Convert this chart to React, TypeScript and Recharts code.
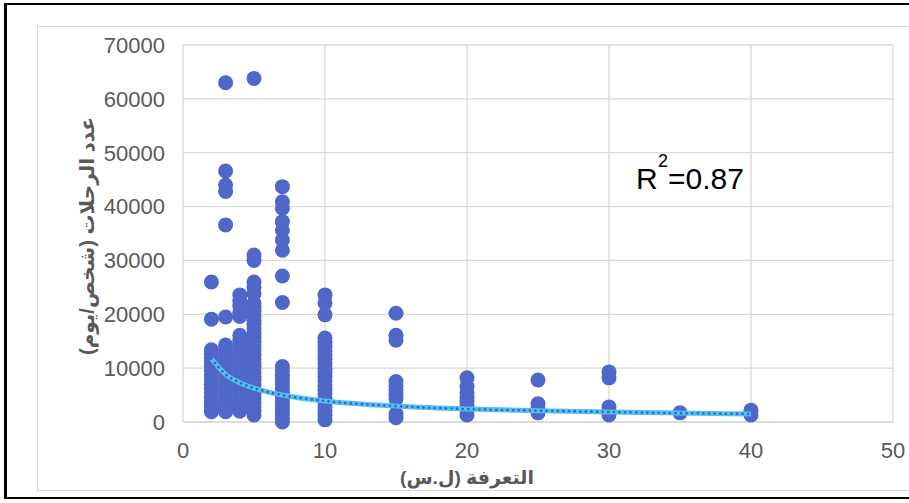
import React from "react";
import {
    ComposedChart, Scatter, XAxis, YAxis, CartesianGrid, Label, Curve,
} from "recharts";

// fare (SYP) columns and trips per day
const FARES = [2, 3, 4, 5, 7, 10, 15, 20, 25, 30, 35, 40];

const TRIPS_2 = [26000, 19100, 13400, 12600, 11800, 11000, 10200, 9400, 8600, 7800, 7000, 6200, 5400, 4600, 3800, 3000, 2400, 1900];
const TRIPS_3 = [63000, 46600, 44000, 42800, 36600, 19500, 14300, 13500, 12600, 11800, 11000, 10200, 9400, 8600, 7800, 7000, 6200, 5400, 4600, 3800, 3000, 2400, 1900];
const TRIPS_4 = [23600, 22600, 21600, 20400, 19600, 16100, 15200, 14400, 13600, 12800, 12000, 11200, 10400, 9600, 8800, 8000, 7200, 6400, 5600, 4800, 4000, 3200, 2600, 2000];
const TRIPS_5 = [63800, 31000, 30000, 26000, 25000, 23800, 22100, 21300, 20500, 19700, 18900, 18100, 17300, 16500, 15700, 14900, 14100, 13300, 12500, 11700, 10900, 10100, 9300, 8500, 7700, 6900, 6100, 5300, 4500, 3700, 2900, 2100, 1300];
const TRIPS_7 = [43700, 40900, 39700, 37200, 35600, 33800, 31900, 27100, 22200, 10300, 9500, 8700, 7900, 7100, 6300, 5500, 4700, 3900, 3100, 2300, 1500, 700, 0];
const TRIPS_10 = [23600, 22100, 19900, 15600, 14800, 14000, 13200, 12400, 11600, 10800, 10000, 9200, 8400, 7600, 6800, 6000, 5200, 4400, 3600, 2800, 2000, 1200, 400];
const TRIPS_15 = [20200, 16100, 15200, 7500, 6700, 5900, 5100, 4300, 1500, 800];
const TRIPS_20 = [8200, 6600, 5400, 4600, 3800, 3000, 2200, 1300];
const TRIPS_25 = [7800, 3400, 2600, 1700];
const TRIPS_30 = [9300, 8200, 2800, 2000, 1300];
const TRIPS_35 = [1700];
const TRIPS_40 = [2200, 1300];

// power trend line
const TREND_X = [2, 3, 4, 5, 7, 10, 15, 20, 25, 30, 35, 40];
const TREND_Y = [11800, 8850, 7300, 6300, 5000, 3900, 2950, 2400, 2100, 1870, 1650, 1490];

const X_TICKS = [0, 10, 20, 30, 40, 50];
const Y_TICKS = [0, 10000, 20000, 30000, 40000, 50000, 60000, 70000];

const COLUMNS = [TRIPS_2, TRIPS_3, TRIPS_4, TRIPS_5, TRIPS_7, TRIPS_10, TRIPS_15, TRIPS_20, TRIPS_25, TRIPS_30, TRIPS_35, TRIPS_40];

const points = COLUMNS.flatMap((col, i) => col.map((v) => ({ x: FARES[i], y: v })));
const trend = TREND_X.map((x, i) => ({ x, y: TREND_Y[i] }));

const DOT = "#4e67c8";
const FONT = "Arial, 'Liberation Sans', 'DejaVu Sans', sans-serif";

// trend drawn as a light blue band with a dotted dark blue line on top
const trendLine = (p: any) => (
    <g>
        <Curve type="monotone" points={p.points} stroke="#4fc3f0" strokeWidth={5} fill="none" />
        <Curve type="monotone" points={p.points} stroke="#3f5fc8" strokeWidth={2.6} strokeDasharray="0.1 5.5" strokeLinecap="round" fill="none" />
    </g>
);

export default function App() {
    return (
        <div style={{ position: "absolute", left: 0, top: 0, width: 909, height: 503, background: "#fff", fontFamily: FONT }}>
            <div style={{ position: "absolute", left: 4, top: 3, width: 920, height: 492, borderLeft: "3px solid #000", borderTop: "2px solid #000", borderBottom: "2px solid #000" }} />
            <div style={{ position: "absolute", left: 37, top: 26, width: 900, height: 463, border: "1px solid #d9d9d9" }} />
            <div style={{ position: "absolute", left: 0, top: 0 }}>
                <ComposedChart width={909} height={503} margin={{ top: 45, right: 16, bottom: 41, left: 123 }}>
                    <CartesianGrid stroke="#d9d9d9" strokeWidth={1.3} />
                    <XAxis
                        type="number"
                        dataKey="x"
                        domain={[0, 50]}
                        ticks={X_TICKS}
                        height={40}
                        tickLine={false}
                        tickSize={0}
                        tickMargin={20}
                        axisLine={{ stroke: "#d9d9d9", strokeWidth: 1.3 }}
                        tick={{ fill: "#595959", fontSize: 22, fontFamily: FONT }}
                        interval={0}
                    >
                        <Label
                            content={() => (
                                <text x={467} y={484} textAnchor="middle" fill="#595959" fontSize={19} fontWeight="bold" fontFamily={FONT}>
                                    التعرفة (ل.س)
                                </text>
                            )}
                        />
                    </XAxis>
                    <YAxis
                        type="number"
                        dataKey="y"
                        domain={[0, 70000]}
                        ticks={Y_TICKS}
                        width={60}
                        tickLine={false}
                        tickSize={0}
                        tickMargin={18}
                        axisLine={false}
                        tick={{ fill: "#595959", fontSize: 22, fontFamily: FONT }}
                        interval={0}
                    >
                        <Label
                            content={() => (
                                <text x={94} y={236} transform="rotate(-90 94 236)" textAnchor="middle" fill="#595959" fontSize={20} fontWeight="bold" fontFamily={FONT}>
                                    عدد الرحلات (شخص/يوم)
                                </text>
                            )}
                        />
                    </YAxis>
                    <Scatter
                        data={points}
                        isAnimationActive={false}
                        shape={(p: any) => <circle cx={p.cx} cy={p.cy} r={7.5} fill={DOT} />}
                    />
                    <Scatter
                        data={trend}
                        isAnimationActive={false}
                        line={trendLine}
                        shape={() => <g />}
                    />
                </ComposedChart>
            </div>
            <svg width={909} height={503} style={{ position: "absolute", left: 0, top: 0, pointerEvents: "none" }}>
                <g fontFamily="'Liberation Sans', Arial, sans-serif" fill="#000">
                    <text x={636} y={189} fontSize={30}>R</text>
                    <text x={658} y={167} fontSize={18}>2</text>
                    <text x={668} y={189} fontSize={30}>=0.87</text>
                </g>
            </svg>
        </div>
    );
}
